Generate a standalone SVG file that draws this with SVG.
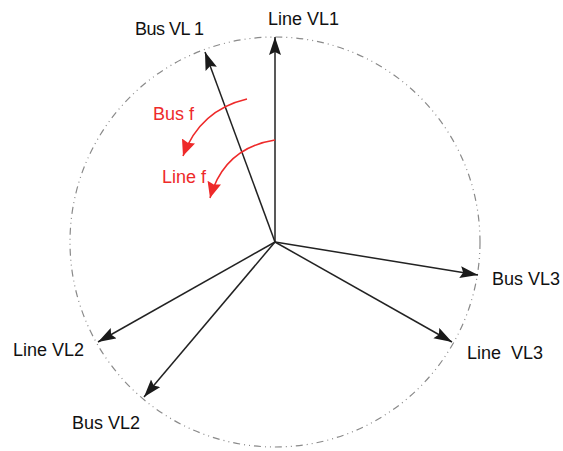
<svg xmlns="http://www.w3.org/2000/svg" width="563" height="451" viewBox="0 0 563 451">
<style>
.lbl{font-family:"Liberation Sans",Arial,sans-serif;font-size:18px;fill:#111}
.red{font-family:"Liberation Sans",Arial,sans-serif;font-size:18px;fill:#ee2a2a}
.vec{stroke:#222;stroke-width:1.5;fill:none;marker-end:url(#ah)}
.rot{stroke:#ee2a2a;stroke-width:1.5;fill:none;marker-end:url(#rh)}
</style>
<defs>
<marker id="ah" markerWidth="20" markerHeight="14" refX="18" refY="6" orient="auto" markerUnits="userSpaceOnUse">
<path d="M0,0 L18,6 L0,12 L3,6 z" fill="#1a1a1a"/>
</marker>
<marker id="rh" markerWidth="20" markerHeight="16" refX="16" refY="7" orient="auto" markerUnits="userSpaceOnUse">
<path d="M0,0 L16,7 L0,14 L2,7 z" fill="#ee2a2a"/>
</marker>
</defs>
<rect width="563" height="451" fill="#fff"/>
<g id="circle">
<circle cx="275" cy="242" r="205" fill="none" stroke="#8a8a8a" stroke-width="1.2" stroke-dasharray="7 4 1 4 1 4"/>
</g>
<g id="connectors">
<line class="vec" x1="275" y1="242" x2="275" y2="37"/>
<line class="vec" x1="275" y1="242" x2="205" y2="52"/>
<line class="vec" x1="275" y1="242" x2="478" y2="275"/>
<line class="vec" x1="275" y1="242" x2="452" y2="342"/>
<line class="vec" x1="275" y1="242" x2="98" y2="342"/>
<line class="vec" x1="275" y1="242" x2="144" y2="397"/>
<path class="rot" d="M247,99 Q200,110 183,156"/>
<path class="rot" d="M275,140 Q224,148 210,198"/>
</g>
<g id="line-vl1"><text class="lbl" x="268" y="25">Line VL1</text></g>
<g id="bus-vl1"><text class="lbl" x="135" y="35" textLength="69" lengthAdjust="spacing">Bus VL 1</text></g>
<g id="bus-f"><text class="red" x="153" y="120">Bus f</text></g>
<g id="line-f"><text class="red" x="162" y="183">Line f</text></g>
<g id="bus-vl3"><text class="lbl" x="492" y="285">Bus VL3</text></g>
<g id="line-vl3"><text class="lbl" x="467" y="359" xml:space="preserve">Line  VL3</text></g>
<g id="line-vl2"><text class="lbl" x="13" y="356">Line VL2</text></g>
<g id="bus-vl2"><text class="lbl" x="72" y="429">Bus VL2</text></g>
</svg>
